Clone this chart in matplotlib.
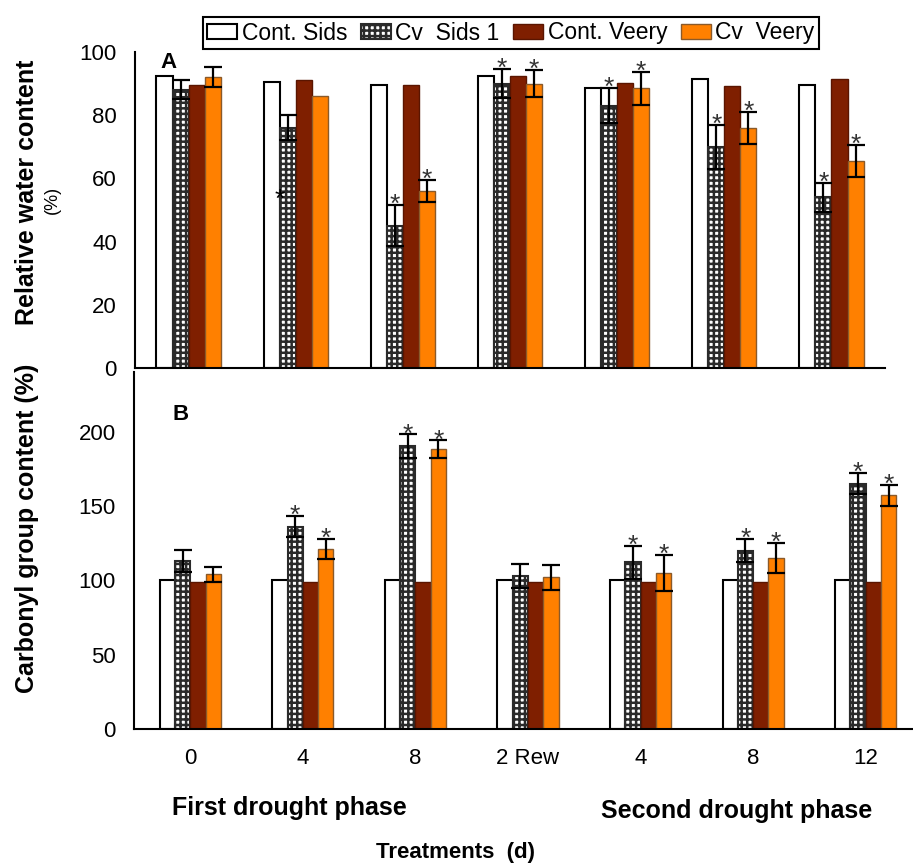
import matplotlib
matplotlib.use('Agg')
from matplotlib import pyplot as plt
import numpy as np

plt.rcParams['font.family'] = ['Liberation Sans', 'DejaVu Sans']
plt.rcParams['hatch.linewidth'] = 1.8

days = ['0', '4', '8', '2 Rew', '4', '8', '12']
series = ['Cont. Sids', 'Cv  Sids 1', 'Cont. Veery', 'Cv  Veery']

# relative water content (%)
rwc_cont_sids = [92.5, 90.5, 89.5, 92.5, 88.5, 91.5, 89.5]
rwc_cv_sids = [88, 76, 45, 90, 83, 70, 54]
rwc_cont_veery = [89.5, 91, 89.5, 92.3, 90.3, 89.3, 91.3]
rwc_cv_veery = [92, 86, 56, 90, 88.5, 76, 65.5]
rwc_cv_sids_err = [3, 4, 6.5, 4.5, 5.5, 7, 4.5]
rwc_cv_veery_err = [3.2, 0, 3.5, 4.3, 5.3, 5, 5]
rwc_cv_sids_star = [False, False, True, True, True, True, True]
rwc_cv_veery_star = [False, False, True, True, True, True, True]
stray_star_y = 51

# carbonyl group content (%)
cg_cont_sids = [100, 100, 100, 100, 100, 100, 100]
cg_cv_sids = [113, 136, 190, 103, 112, 120, 165]
cg_cont_veery = [99, 99, 99, 99, 99, 99, 99]
cg_cv_veery = [104, 121, 188, 102, 105, 115, 157]
cg_cv_sids_err = [7.5, 7, 8, 8, 11, 8, 7]
cg_cv_veery_err = [5, 6.5, 6, 8.5, 12, 10, 7]
cg_cv_sids_star = [False, True, True, False, True, True, True]
cg_cv_veery_star = [False, True, True, False, True, True, True]

brown = '#7f1f00'
orange = '#ff8000'

fig = plt.figure(figsize=(9.13, 8.63), dpi=100)
ax1 = fig.add_axes([135/913, 1-368/863, 750/913, 316/863])
ax2 = fig.add_axes([134/913, 1-729/863, 788/913, 357/863])

x = np.arange(len(days))


def draw(ax, w, cs, cv, cvv, cvvv, e1, e2, s1, s2):
    ax.bar(x - 1.5*w, cs, w, color='white', edgecolor='black', linewidth=1.5, label=series[0])
    ax.bar(x - 0.5*w, cv, w, color='white', edgecolor='#2a2a2a', hatch='+++', linewidth=1.5, label=series[1])
    ax.bar(x + 0.5*w, cvv, w, color=brown, edgecolor='#5a1500', linewidth=1, label=series[2])
    ax.bar(x + 1.5*w, cvvv, w, color=orange, edgecolor='#8a5a2a', linewidth=1, label=series[3])
    for xs, vals, errs, stars in [(x - 0.5*w, cv, e1, s1), (x + 1.5*w, cvvv, e2, s2)]:
        for xi, v, e, s in zip(xs, vals, errs, stars):
            if e > 0:
                ax.errorbar(xi, v, yerr=e, fmt='none', ecolor='black', elinewidth=1.6,
                            capsize=6.5, capthick=1.6)
            if s:
                ax.annotate('*', xy=(xi, v + e), xytext=(0, -5), textcoords='offset points',
                            ha='center', va='baseline', fontsize=19, color='#333333')
    ax.set_xlim(-0.5, 6.5)
    for sp in ['top', 'right']:
        ax.spines[sp].set_visible(False)
    ax.spines['left'].set_linewidth(1.5)
    ax.spines['bottom'].set_linewidth(1.5)
    ax.tick_params(length=0, labelsize=16, pad=13)


draw(ax1, 0.15, rwc_cont_sids, rwc_cv_sids, rwc_cont_veery, rwc_cv_veery,
     rwc_cv_sids_err, rwc_cv_veery_err, rwc_cv_sids_star, rwc_cv_veery_star)
ax1.set_ylim(0, 100)
ax1.set_yticks(np.arange(0, 101, 20))
ax1.set_xticks([])
# stray asterisk drawn on the left edge of the 4 d bar
ax1.annotate('*', xy=(1 - 0.15, stray_star_y), ha='center', va='baseline',
             fontsize=19, color='black', zorder=5)

draw(ax2, 0.136, cg_cont_sids, cg_cv_sids, cg_cont_veery, cg_cv_veery,
     cg_cv_sids_err, cg_cv_veery_err, cg_cv_sids_star, cg_cv_veery_star)
ax2.set_ylim(0, 240)
ax2.set_yticks(np.arange(0, 201, 50))
ax2.set_xticks(x)
ax2.set_xticklabels(days)
ax2.tick_params(axis='x', pad=14)

fig.text(160/913, 1-62/863, 'A', fontsize=16, fontweight='bold', va='center', ha='left')
fig.text(172/913, 1-415/863, 'B', fontsize=16, fontweight='bold', va='center', ha='left')

fig.text(27/913, 1-192/863, 'Relative water content', rotation=90, fontsize=18,
         fontweight='bold', ha='center', va='center')
fig.text(52/913, 1-200/863, '(%)', rotation=90, fontsize=13, ha='center', va='center')
fig.text(27/913, 1-528/863, 'Carbonyl group content (%)', rotation=90, fontsize=18,
         fontweight='bold', ha='center', va='center')

fig.text(289/913, 1-808/863, 'First drought phase', fontsize=18, fontweight='bold', ha='center', va='center')
fig.text(737/913, 1-811/863, 'Second drought phase', fontsize=18, fontweight='bold', ha='center', va='center')
fig.text(455/913, 1-852/863, 'Treatments  (d)', fontsize=16, fontweight='bold', ha='center', va='center')

h, l = ax1.get_legend_handles_labels()
fig.legend(h, l, loc='center', bbox_to_anchor=(511/913, 1-33/863), ncol=4, fontsize=16.5,
           frameon=True, fancybox=False, edgecolor='black', framealpha=1,
           handlelength=1.3, handleheight=0.6, handletextpad=0.2, columnspacing=0.6,
           borderpad=0.2).get_frame().set_linewidth(1.5)

plt.savefig('out.png', dpi=100)
